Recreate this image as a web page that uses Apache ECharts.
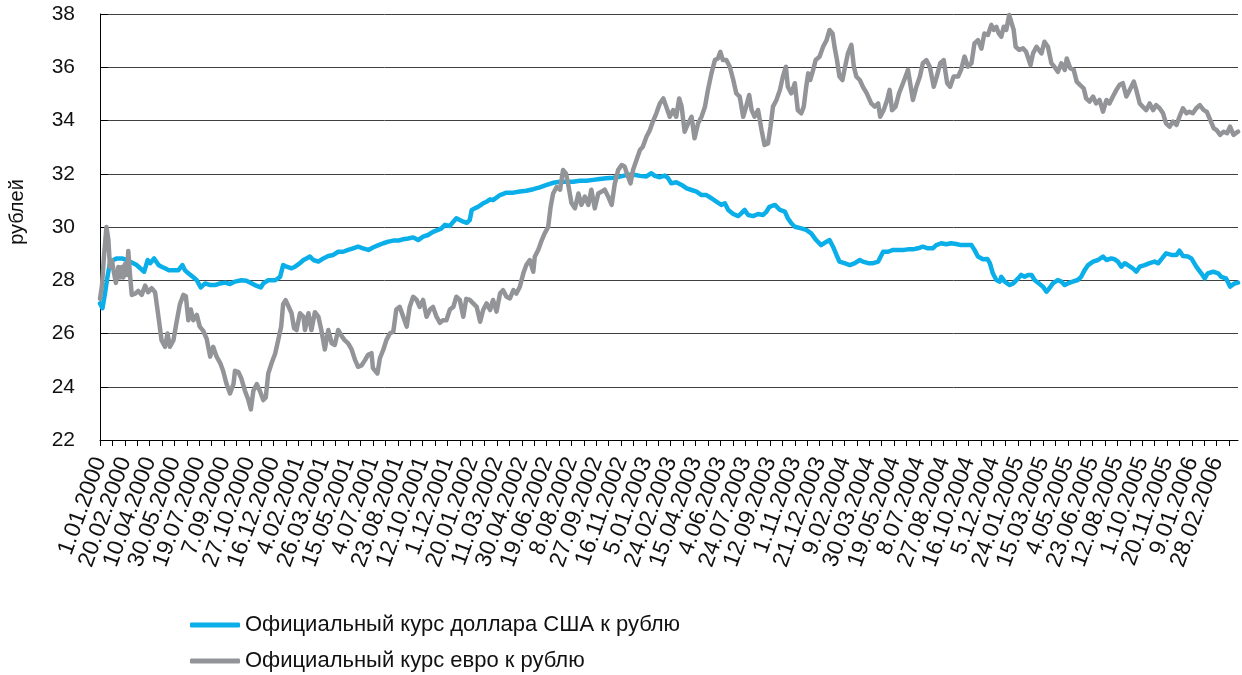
<!DOCTYPE html>
<html><head><meta charset="utf-8">
<script src="https://cdn.jsdelivr.net/npm/echarts@6/dist/echarts.min.js"></script>
<style>html,body{margin:0;padding:0;background:#fff}#c{width:1242px;height:675px}</style>
</head><body><div id="c"></div>
<script>
// days counted from 1.01.2000
const usdDays = [0,5,10,15,20,27,34,44,54,60,67,74,81,89,96,101,109,118,124,131,138,148,158,166,171,178,188,195,203,212,222,232,242,252,262,272,285,295,306,312,324,329,339,353,363,369,376,386,393,403,410,416,423,430,440,450,460,470,480,490,500,510,520,530,541,551,561,571,581,591,601,611,621,631,641,651,661,671,681,688,695,705,712,718,725,732,739,745,749,755,762,772,779,786,792,806,819,833,846,859,873,886,900,913,927,940,953,967,980,994,1007,1020,1034,1047,1061,1074,1088,1101,1111,1118,1128,1138,1145,1151,1161,1172,1182,1192,1202,1212,1222,1232,1242,1252,1259,1266,1276,1286,1292,1299,1306,1316,1326,1336,1343,1349,1360,1370,1380,1386,1393,1400,1413,1423,1433,1443,1453,1464,1470,1477,1484,1490,1500,1511,1521,1531,1537,1548,1558,1568,1578,1588,1598,1608,1618,1628,1638,1648,1658,1668,1678,1685,1695,1705,1715,1725,1735,1746,1756,1762,1769,1779,1788,1793,1799,1806,1813,1816,1823,1833,1840,1850,1856,1863,1870,1877,1883,1892,1900,1907,1913,1920,1930,1937,1944,1950,1960,1970,1977,1984,1991,2001,2011,2021,2028,2038,2044,2051,2058,2065,2071,2081,2088,2095,2105,2115,2125,2132,2140,2148,2159,2169,2175,2182,2192,2199,2209,2219,2226,2232,2243,2253,2259,2269,2277,2286,2293];
const usdValues = [27.13,26.95,27.5,28.13,28.64,28.76,28.82,28.82,28.76,28.7,28.64,28.57,28.45,28.32,28.76,28.64,28.82,28.57,28.51,28.45,28.38,28.38,28.38,28.57,28.38,28.26,28.11,28.0,27.73,27.88,27.82,27.82,27.88,27.91,27.86,27.95,28.0,27.98,27.88,27.82,27.73,27.88,28.0,28.0,28.13,28.57,28.51,28.45,28.51,28.64,28.76,28.82,28.89,28.76,28.7,28.82,28.91,28.95,29.07,29.07,29.14,29.2,29.26,29.2,29.14,29.24,29.32,29.39,29.45,29.49,29.49,29.54,29.57,29.61,29.51,29.64,29.7,29.82,29.89,29.95,30.08,30.04,30.2,30.33,30.26,30.2,30.16,30.26,30.64,30.7,30.76,30.89,30.95,31.04,31.01,31.2,31.29,31.29,31.33,31.36,31.42,31.49,31.58,31.66,31.7,31.7,31.7,31.74,31.74,31.77,31.8,31.83,31.85,31.89,31.95,31.97,31.92,31.9,32.02,31.92,31.87,31.93,31.83,31.64,31.68,31.58,31.45,31.39,31.33,31.2,31.2,31.08,30.95,30.83,30.89,30.64,30.49,30.41,30.51,30.64,30.45,30.41,30.49,30.45,30.58,30.76,30.83,30.64,30.58,30.33,30.14,30.01,29.95,29.89,29.76,29.51,29.32,29.45,29.51,29.26,28.95,28.7,28.64,28.57,28.64,28.76,28.7,28.64,28.64,28.7,29.07,29.07,29.14,29.14,29.14,29.16,29.16,29.2,29.26,29.2,29.2,29.32,29.39,29.35,29.39,29.36,29.32,29.32,29.32,29.14,28.89,28.79,28.8,28.64,28.26,28.01,27.95,28.13,27.95,27.82,27.88,28.07,28.2,28.13,28.2,28.2,28.01,27.88,27.76,27.57,27.7,27.88,28.01,27.95,27.82,27.88,27.95,28.01,28.13,28.38,28.57,28.7,28.76,28.89,28.76,28.82,28.79,28.7,28.51,28.64,28.57,28.45,28.32,28.51,28.57,28.64,28.7,28.64,28.82,29.01,28.95,28.95,29.11,28.91,28.89,28.82,28.51,28.26,28.07,28.26,28.32,28.26,28.13,28.07,27.76,27.88,27.91];

const eurDays = [0,4,8,13,17,20,24,27,32,37,40,44,47,50,54,57,60,64,71,77,84,91,97,104,111,118,124,131,136,141,148,154,161,168,173,178,183,188,195,201,208,215,222,228,235,242,248,255,262,269,272,279,285,292,299,304,309,316,322,329,334,339,346,353,359,365,369,374,379,386,391,396,403,410,413,420,426,433,440,446,453,460,467,473,480,487,493,500,507,514,520,527,534,540,547,550,559,564,571,577,584,591,597,604,611,618,624,631,638,644,651,658,665,671,678,685,691,698,705,712,718,725,732,738,745,752,759,766,772,779,786,792,799,806,812,819,826,833,839,846,853,859,866,873,876,883,890,896,903,908,913,920,927,933,939,943,950,957,964,970,977,984,990,997,1004,1011,1017,1024,1031,1037,1044,1051,1057,1064,1069,1074,1081,1088,1094,1101,1108,1114,1121,1128,1135,1141,1148,1155,1161,1167,1172,1178,1185,1192,1198,1205,1212,1219,1225,1232,1239,1245,1250,1255,1262,1269,1276,1282,1289,1296,1302,1308,1313,1319,1326,1333,1339,1346,1351,1356,1363,1370,1376,1382,1386,1393,1400,1406,1413,1418,1423,1427,1431,1437,1442,1450,1457,1464,1470,1476,1480,1485,1490,1496,1500,1507,1514,1519,1524,1531,1537,1545,1554,1561,1568,1572,1579,1586,1591,1596,1603,1610,1618,1628,1638,1645,1652,1658,1665,1672,1680,1686,1693,1700,1707,1713,1720,1729,1735,1742,1749,1756,1762,1769,1776,1782,1789,1796,1801,1806,1811,1816,1821,1826,1832,1836,1841,1845,1852,1860,1866,1875,1880,1887,1897,1903,1910,1917,1923,1930,1937,1944,1948,1955,1962,1968,1975,1982,1987,1994,2001,2007,2014,2021,2028,2034,2041,2048,2054,2061,2068,2075,2083,2088,2095,2101,2108,2115,2122,2128,2135,2142,2148,2155,2162,2169,2175,2182,2189,2195,2202,2209,2216,2224,2230,2237,2244,2250,2257,2264,2271,2277,2284,2293];
const eurValues = [27.3,27.8,28.9,30.0,29.5,28.5,28.75,28.4,27.9,28.5,28.1,28.5,28.1,28.6,28.2,29.1,28.3,27.45,27.5,27.6,27.45,27.8,27.55,27.7,27.55,26.6,25.75,25.5,26.0,25.5,25.75,26.4,27.1,27.45,27.4,26.5,26.9,26.5,26.7,26.26,26.1,25.8,25.13,25.5,25.13,24.9,24.6,24.1,23.75,24.1,24.6,24.55,24.3,23.85,23.5,23.15,23.85,24.1,23.85,23.5,23.6,24.5,24.9,25.25,25.75,26.25,27.1,27.25,27.05,26.76,26.2,26.13,26.76,26.63,26.13,26.76,26.13,26.8,26.63,26.13,25.4,26.13,25.63,25.57,26.13,25.9,25.75,25.63,25.4,25.0,24.75,24.8,25.0,25.2,25.26,24.7,24.5,25.07,25.4,25.75,26.0,26.07,26.9,27.0,26.63,26.26,27.0,27.38,27.26,27.0,27.26,26.63,26.9,27.0,26.63,26.4,26.5,26.5,26.9,27.0,27.38,27.26,26.63,27.3,27.26,27.13,27.0,26.44,26.88,27.13,26.88,27.26,26.82,27.5,27.63,27.38,27.32,27.63,27.5,27.76,28.26,28.57,28.76,28.32,28.88,29.14,29.5,29.76,30.0,30.76,31.26,31.5,31.4,32.14,32.0,31.64,30.9,30.7,31.26,30.83,31.14,30.83,31.4,30.7,31.26,31.33,31.4,31.14,30.83,31.6,32.14,32.33,32.27,31.89,31.64,32.14,32.52,32.89,33.02,33.39,33.64,33.96,34.27,34.64,34.83,34.52,34.14,34.39,34.14,34.83,34.52,33.58,33.89,34.14,33.33,33.89,34.14,34.52,35.15,35.77,36.27,36.33,36.58,36.27,36.27,36.02,35.52,35.02,34.9,34.14,34.52,34.96,34.39,34.14,34.39,33.64,33.08,33.14,33.77,34.52,34.77,35.15,35.65,36.02,35.27,35.02,35.4,34.39,34.27,34.52,35.27,35.77,35.52,35.9,36.27,36.4,36.77,37.02,37.4,37.27,36.77,36.27,35.65,35.52,35.9,36.52,36.84,36.02,35.65,35.52,35.27,35.02,34.64,34.52,34.64,34.14,34.39,34.77,35.15,34.39,34.52,35.02,35.4,35.9,34.77,35.27,35.65,36.15,36.27,36.02,35.27,35.65,36.15,36.27,35.4,35.27,35.65,35.65,35.9,36.4,36.02,36.15,36.9,37.02,36.7,37.27,37.21,37.59,37.4,37.52,37.27,37.15,37.52,37.4,37.96,37.9,37.4,36.77,36.65,36.71,36.58,36.08,36.52,36.77,36.52,36.96,36.77,36.15,36.02,35.83,36.15,35.9,36.33,35.96,35.9,35.46,35.33,35.21,34.83,34.71,34.9,34.64,34.77,34.33,34.77,34.64,34.9,35.15,35.33,35.4,34.9,35.15,35.46,35.15,34.64,34.52,34.39,34.64,34.39,34.58,34.46,34.27,33.89,33.77,33.96,33.83,34.14,34.46,34.27,34.33,34.27,34.46,34.58,34.39,34.33,34.02,33.71,33.64,33.46,33.58,33.52,33.77,33.46,33.58];

const seriesNames = ['Официальный курс доллара США к рублю', 'Официальный курс евро к рублю'];
const xTickLabels = ['1.01.2000','20.02.2000','10.04.2000','30.05.2000','19.07.2000','7.09.2000','27.10.2000','16.12.2000','4.02.2001','26.03.2001','15.05.2001','4.07.2001','23.08.2001','12.10.2001','1.12.2001','20.01.2002','11.03.2002','30.04.2002','19.06.2002','8.08.2002','27.09.2002','16.11.2002','5.01.2003','24.02.2003','15.04.2003','4.06.2003','24.07.2003','12.09.2003','1.11.2003','21.12.2003','9.02.2004','30.03.2004','19.05.2004','8.07.2004','27.08.2004','16.10.2004','5.12.2004','24.01.2005','15.03.2005','4.05.2005','23.06.2005','12.08.2005','1.10.2005','20.11.2005','9.01.2006','28.02.2006'];
const xLabelStep = 50;
const xTickStep = 25;
const yAxisName = 'рублей';

const labelDays = xTickLabels.map((_, i) => i * xLabelStep);
const tickDays = [];
for (let d = 0; d <= labelDays[labelDays.length - 1] + xTickStep; d += xTickStep) tickDays.push(d);

const FONT = 'Liberation Sans, Arial, sans-serif';
const COLORS = ['#0aaee8', '#929497'];
const legendBase = {
  orient: 'vertical', left: 190, itemWidth: 50, itemHeight: 5, padding: 0,
  icon: 'roundRect', selectedMode: false,
  textStyle: {fontSize: 22, color: '#111', fontFamily: FONT}
};
const chart = echarts.init(document.getElementById('c'), null, {renderer: 'canvas'});
chart.setOption({
  animation: false,
  backgroundColor: '#fff',
  grid: {left: 100, right: 4, top: 14, bottom: 235},
  xAxis: {
    type: 'value', min: 0, max: 2293,
    axisLine: {show: true, lineStyle: {color: '#000', width: 1}},
    axisTick: {show: true, customValues: tickDays, length: 6, lineStyle: {color: '#000', width: 1}},
    axisLabel: {customValues: labelDays, rotate: 70, fontSize: 23, color: '#111', fontFamily: FONT, margin: 18,
      formatter: v => xTickLabels[Math.round(v / xLabelStep)] || ''},
    splitLine: {show: false}
  },
  yAxis: {
    type: 'value', min: 22, max: 38, interval: 2,
    axisLine: {show: true, lineStyle: {color: '#000', width: 1}},
    axisTick: {show: true, inside: true, length: 8, lineStyle: {color: '#000'}},
    axisLabel: {fontSize: 21, color: '#111', fontFamily: FONT, margin: 25},
    splitLine: {show: true, lineStyle: {color: '#404040', width: 1}}
  },
  graphic: [{
    type: 'text', x: 17, y: 212, rotation: Math.PI / 2,
    style: {text: yAxisName, fontSize: 20, fontFamily: FONT, fill: '#111', textAlign: 'center', textVerticalAlign: 'middle'}
  }],
  legend: [
    Object.assign({}, legendBase, {top: 614, data: [seriesNames[0]]}),
    Object.assign({}, legendBase, {top: 650, data: [seriesNames[1]]})
  ],
  series: [
    {name: seriesNames[0], type: 'line', showSymbol: false, symbol: 'none',
     data: usdDays.map((d, i) => [d, usdValues[i]]),
     lineStyle: {color: COLORS[0], width: 4.5, join: 'round', cap: 'round'}, itemStyle: {color: COLORS[0]}},
    {name: seriesNames[1], type: 'line', showSymbol: false, symbol: 'none',
     data: eurDays.map((d, i) => [d, eurValues[i]]),
     lineStyle: {color: COLORS[1], width: 4.5, join: 'round', cap: 'round'}, itemStyle: {color: COLORS[1]}}
  ]
});
</script>
</body></html>
